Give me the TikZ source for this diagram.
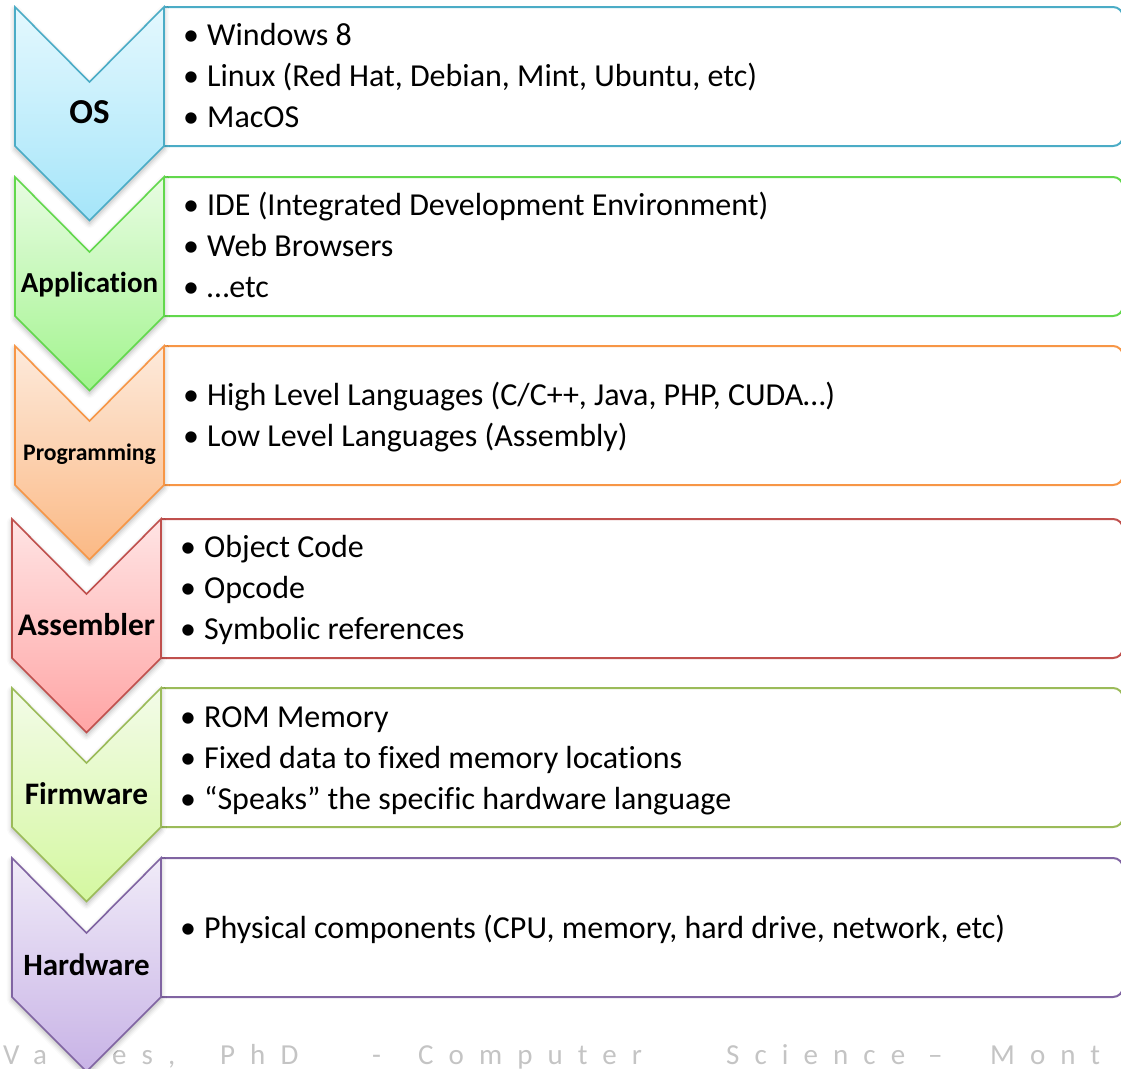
\documentclass[tikz,border=0pt]{standalone}
\usepackage{fontspec}
\setmainfont{Carlito}[Ligatures={TeX,NoCommon}]
\newfontfamily\footfont[LetterSpace=52]{Carlito}
\usetikzlibrary{shadows.blur}

% tier colours: outline, top of fill, bottom of fill
\definecolor{osLine}{HTML}{4BACC6}
\definecolor{osTop}{HTML}{E4F8FE}
\definecolor{osBot}{HTML}{A5E5F9}
\definecolor{apLine}{HTML}{62D84C}
\definecolor{apTop}{HTML}{E8FCE2}
\definecolor{apBot}{HTML}{A2F48E}
\definecolor{prLine}{HTML}{F79646}
\definecolor{prTop}{HTML}{FDEADB}
\definecolor{prBot}{HTML}{FBB985}
\definecolor{asLine}{HTML}{C0504D}
\definecolor{asTop}{HTML}{FFE4E4}
\definecolor{asBot}{HTML}{FFA5A5}
\definecolor{fwLine}{HTML}{9BBB59}
\definecolor{fwTop}{HTML}{F3FBE8}
\definecolor{fwBot}{HTML}{D4F8A0}
\definecolor{hwLine}{HTML}{8064A2}
\definecolor{hwTop}{HTML}{F0EBF8}
\definecolor{hwBot}{HTML}{C8B3E6}
\definecolor{footGray}{HTML}{C4C4C4}

\tikzset{
  boxline/.style={line width=2pt, rounded corners=10pt},
  chevron/.style={line width=1.6pt, line join=miter,
    blur shadow={shadow xshift=0pt, shadow yshift=-3pt,
      shadow blur radius=5pt, shadow opacity=30}},
  tierlabel/.style={anchor=base, inner sep=0pt},
  entry/.style={anchor=base west, inner sep=0pt,
    font=\fontsize{32}{38}\selectfont},
  foot/.style={anchor=base west, inner sep=0pt, text=footGray,
    font=\footfont\fontsize{29}{34}\selectfont},
}

% one tier: #1 left x, #2 top y, #3 outline, #4 top fill, #5 bottom fill
\newcommand\tier[5]{%
  \draw[boxline, draw=#3] (#1+149,#2) -- (1123,#2) -- (1123,#2+139) -- (#1+149,#2+139);
  \path[chevron, draw=#3, top color=#4, bottom color=#5]
    (#1,#2) -- (#1+74.5,#2+75) -- (#1+149,#2) -- (#1+149,#2+139)
    -- (#1+74.5,#2+213.5) -- (#1,#2+139) -- cycle;
}
% one bullet line: #1 name, #2 left x, #3 baseline y, #4 text
\newcommand\entryline[4]{%
  \node[entry] (#1) at (#2,#3) {\makebox[24pt][l]{•}#4};
}

\begin{document}
\begin{tikzpicture}[x=1pt, y=-1pt]
\useasboundingbox (0,0) rectangle (1121,1068);
\clip (0,0) rectangle (1121,1068);

% footer line, partly hidden behind the last chevron
\node[foot] (footA) at (3,1064) {Va};
\node[foot] (footB) at (112,1064) {es,};
\node[foot] (footC) at (220,1064) {PhD};
\node[foot] (footD) at (372,1064) {-};
\node[foot] (footE) at (418,1064) {Computer};
\node[foot] (footF) at (726,1064) {Science};
\node[foot] (footG) at (928,1064) {–};
\node[foot] (footH) at (990,1064) {Mont};

\tier{15}{7}{osLine}{osTop}{osBot}
\tier{15}{177}{apLine}{apTop}{apBot}
\tier{15}{346}{prLine}{prTop}{prBot}
\tier{12}{519}{asLine}{asTop}{asBot}
\tier{12}{688}{fwLine}{fwTop}{fwBot}
\tier{12}{858}{hwLine}{hwTop}{hwBot}

% tier names
\node[tierlabel, font=\bfseries\fontsize{35}{38}\selectfont] (osL) at (89.5,123) {OS};
\node[tierlabel, font=\bfseries\fontsize{29}{32}\selectfont] (apL) at (89.5,292) {Application};
\node[tierlabel, font=\bfseries\fontsize{23.7}{26}\selectfont] (prL) at (89.5,460) {Programming};
\node[tierlabel, font=\bfseries\fontsize{31.5}{34}\selectfont] (asL) at (86.5,635) {Assembler};
\node[tierlabel, font=\bfseries\fontsize{31.3}{34}\selectfont] (fwL) at (86.5,804) {Firmware};
\node[tierlabel, font=\bfseries\fontsize{31}{34}\selectfont] (hwL) at (86.5,975) {Hardware};

% tier contents
\entryline{os1}{183}{45}{Windows 8}
\entryline{os2}{183}{86}{Linux (Red Hat, Debian, Mint, Ubuntu, etc)}
\entryline{os3}{183}{127}{MacOS}

\entryline{ap1}{183}{215}{IDE (Integrated Development Environment)}
\entryline{ap2}{183}{256}{Web Browsers}
\entryline{ap3}{183}{297}{…etc}

\entryline{pr1}{183}{405}{High Level Languages (C/C++, Java, PHP, CUDA…)}
\entryline{pr2}{183}{446}{Low Level Languages (Assembly)}

\entryline{as1}{180}{557}{Object Code}
\entryline{as2}{180}{598}{Opcode}
\entryline{as3}{180}{639}{Symbolic references}

\entryline{fw1}{180}{727}{ROM Memory}
\entryline{fw2}{180}{768}{Fixed data to fixed memory locations}
\entryline{fw3}{180}{809}{“Speaks” the specific hardware language}

\entryline{hw1}{180}{938}{Physical components (CPU, memory, hard drive, network, etc)}
\end{tikzpicture}
\end{document}
